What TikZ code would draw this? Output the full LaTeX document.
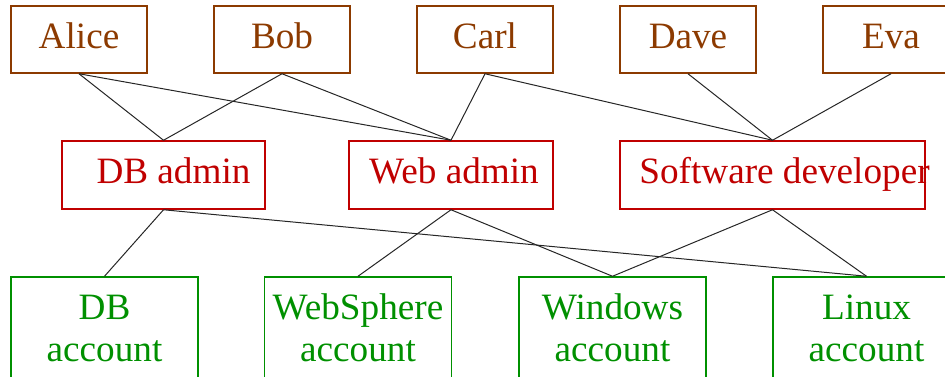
\documentclass[tikz,border=0pt]{standalone}
\usepackage{fontspec}
\setmainfont{Liberation Serif}
\usepackage{xcolor}
\usetikzlibrary{positioning}
\definecolor{userbrown}{HTML}{8C3A00}
\definecolor{rolered}{HTML}{C00000}
\definecolor{acctgreen}{HTML}{009000}
\tikzset{
  oneline/.style  ={text height=12.3pt,text depth=3.5pt},
  userbox/.style  ={draw=userbrown,text=userbrown,line width=0.75pt,align=center,
                    minimum width=68pt,minimum height=33.5pt,inner sep=0pt,oneline},
  rolebox/.style  ={draw=rolered,text=rolered,line width=0.75pt,align=center,
                    minimum height=34pt,inner sep=0pt,oneline},
  roletext/.style ={text=rolered,inner sep=0pt,oneline},
  acctbox/.style  ={draw=acctgreen,text=acctgreen,line width=0.75pt,align=center,
                    minimum width=93.5pt,minimum height=51pt,inner sep=0pt},
  link/.style     ={draw=black!85,line width=0.5pt},
}

\begin{document}
\begin{tikzpicture}[x=0.5pt,y=-0.5pt,font=\fontsize{18.6}{21}\selectfont]
\useasboundingbox (0,0) rectangle (945,376);
\clip (0,0) rectangle (945,376);

% users
\node[userbox] (alice) at (79,39.5)  {Alice};
\node[userbox] (bob)   at (282,39.5) {Bob};
\node[userbox] (carl)  at (485,39.5) {Carl};
\node[userbox] (dave)  at (688,39.5) {Dave};
\node[userbox] (eva)   at (891,39.5) {Eva};

% roles
\node[rolebox,minimum width=101.5pt] (dbadm)  at (163.5,175) {\hspace*{10pt}DB admin};
\node[rolebox,minimum width=102pt]   (webadm) at (451,175)   {\hspace*{3pt}Web admin};
\node[rolebox,minimum width=152.5pt] (swdev)  at (772.5,175) {};
\node[roletext] (swdevtxt) at (784.5,175) {Software developer};

% accounts
\node[acctbox] (dbacc)  at (104.5,328) {DB\\account};
\node[acctbox] (wsacc)  at (358,328)   {WebSphere\\account};
\node[acctbox] (winacc) at (612.5,328) {Windows\\account};
\node[acctbox] (lnxacc) at (866.5,328) {Linux\\account};

% user -> role
\foreach \u/\r in {alice/dbadm,alice/webadm,bob/dbadm,bob/webadm,
                   carl/webadm,carl/swdev,dave/swdev,eva/swdev}
  \draw[link] (\u.south) -- (\r.north);

% role -> account
\foreach \r/\a in {dbadm/dbacc,dbadm/lnxacc,webadm/wsacc,webadm/winacc,
                   swdev/winacc,swdev/lnxacc}
  \draw[link] (\r.south) -- (\a.north);

\end{tikzpicture}
\end{document}
